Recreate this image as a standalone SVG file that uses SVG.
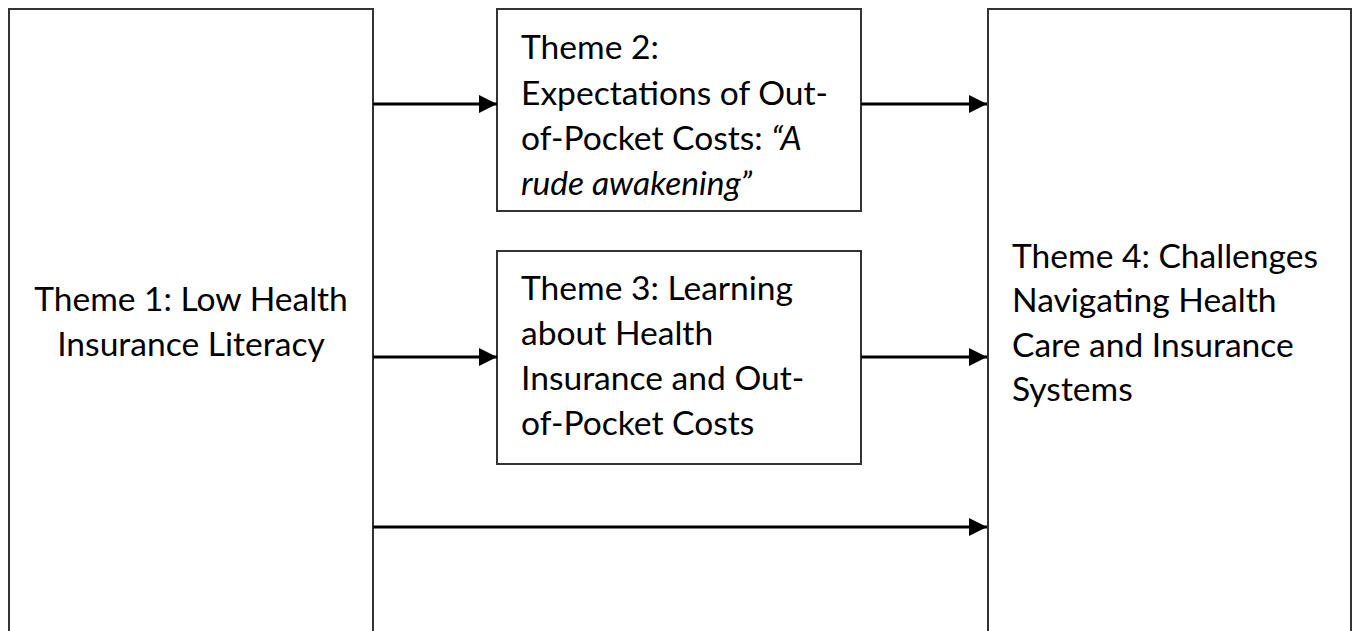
<svg xmlns="http://www.w3.org/2000/svg" width="1355" height="631" viewBox="0 0 1355 631">
<style>
.box{fill:#fff;stroke:#333;stroke-width:2}
.t{font-family:Lato,"Open Sans","Liberation Sans",sans-serif;font-size:33.6px;fill:#000}
.c{stroke:#000;stroke-width:3;fill:none}
</style>
<defs>
<marker id="ah" viewBox="0 0 10 10" refX="10" refY="5" markerWidth="6" markerHeight="6" markerUnits="strokeWidth" orient="auto">
<path d="M0,0 L10,5 L0,10 z" fill="#000"/>
</marker>
</defs>
<rect width="1355" height="631" fill="#fff"/>
<g id="theme1">
<rect class="box" x="9" y="9" width="364" height="630"/>
<text class="t" x="191" text-anchor="middle"><tspan x="191" y="311">Theme 1: Low Health</tspan><tspan x="191" y="356">Insurance Literacy</tspan></text>
</g>
<g id="theme2">
<rect class="box" x="497" y="9" width="364" height="202"/>
<text class="t"><tspan x="521" y="59">Theme 2:</tspan><tspan x="521" y="105">Expectations of Out-</tspan><tspan x="521" y="150">of-Pocket Costs: <tspan font-style="italic">“A</tspan></tspan><tspan x="521" y="195" font-style="italic">rude awakening”</tspan></text>
</g>
<g id="theme3">
<rect class="box" x="497" y="251" width="364" height="213"/>
<text class="t"><tspan x="521" y="300">Theme 3: Learning</tspan><tspan x="521" y="345">about Health</tspan><tspan x="521" y="390">Insurance and Out-</tspan><tspan x="521" y="435">of-Pocket Costs</tspan></text>
</g>
<g id="theme4">
<rect class="box" x="988" y="9" width="363" height="630"/>
<text class="t"><tspan x="1012" y="268">Theme 4: Challenges</tspan><tspan x="1012" y="312">Navigating Health</tspan><tspan x="1012" y="357">Care and Insurance</tspan><tspan x="1012" y="401">Systems</tspan></text>
</g>
<g id="connectors">
<line class="c" x1="373" y1="104" x2="497" y2="104" marker-end="url(#ah)"/>
<line class="c" x1="861" y1="104" x2="987" y2="104" marker-end="url(#ah)"/>
<line class="c" x1="373" y1="357" x2="497" y2="357" marker-end="url(#ah)"/>
<line class="c" x1="861" y1="357" x2="987" y2="357" marker-end="url(#ah)"/>
<line class="c" x1="373" y1="527" x2="987" y2="527" marker-end="url(#ah)"/>
</g>
</svg>
